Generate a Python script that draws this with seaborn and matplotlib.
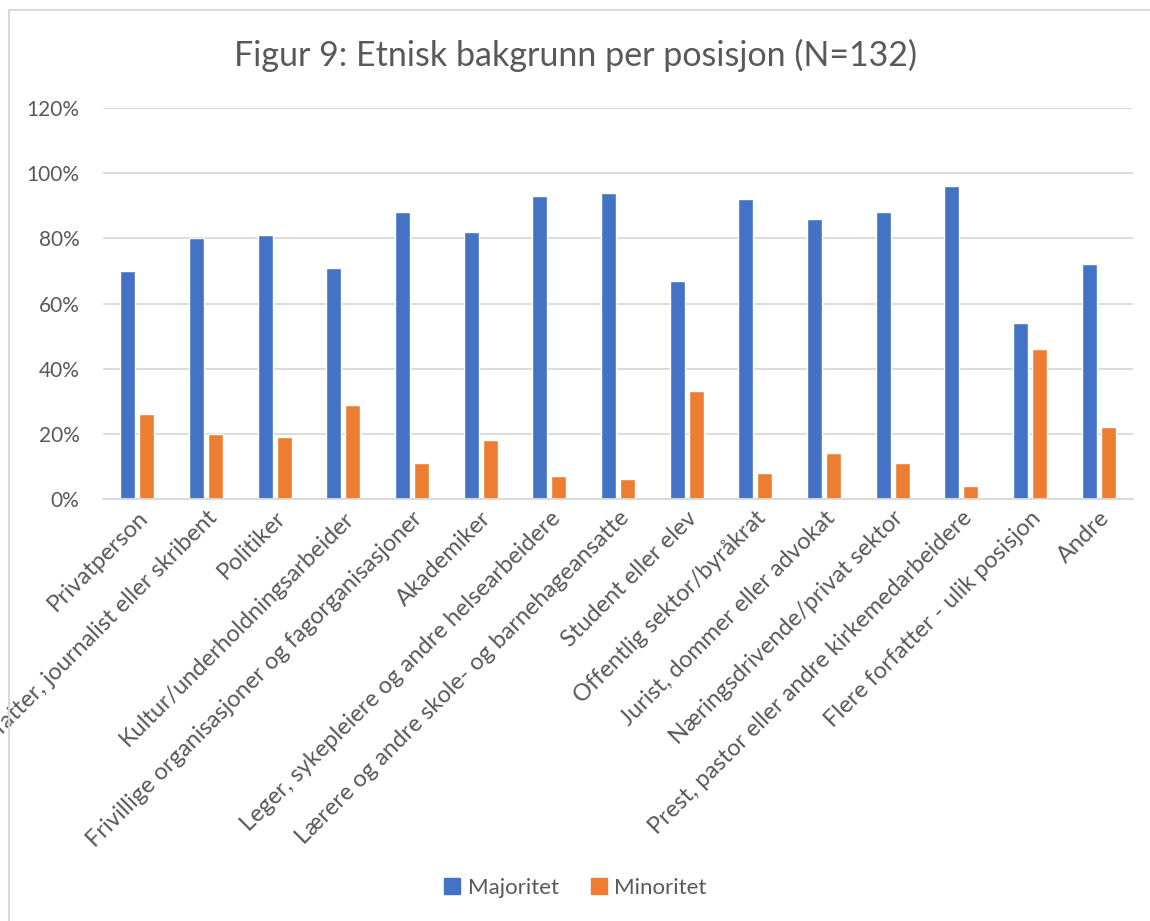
import matplotlib
matplotlib.use("Agg")
import matplotlib.pyplot as plt
import seaborn as sns
import pandas as pd
from matplotlib.lines import Line2D
from matplotlib.ticker import FuncFormatter, MultipleLocator

categories = [
    "Privatperson",
    "Forfatter, journalist eller skribent",
    "Politiker",
    "Kultur/underholdningsarbeider",
    "Frivillige organisasjoner og fagorganisasjoner",
    "Akademiker",
    "Leger, sykepleiere og andre helsearbeidere",
    "Lærere og andre skole- og barnehageansatte",
    "Student eller elev",
    "Offentlig sektor/byråkrat",
    "Jurist, dommer eller advokat",
    "Næringsdrivende/privat sektor",
    "Prest, pastor eller andre kirkemedarbeidere",
    "Flere forfatter - ulik posisjon",
    "Andre",
]
majoritet = [70, 80, 81, 71, 88, 82, 93, 94, 67, 92, 86, 88, 96, 54, 72]
minoritet = [26, 20, 19, 29, 11, 18, 7, 6, 33, 8, 14, 11, 4, 46, 22]
series_names = ["Majoritet", "Minoritet"]
title = "Figur 9: Etnisk bakgrunn per posisjon (N=132)"

df = pd.DataFrame({
    "Posisjon": categories * 2,
    "Serie": [series_names[0]] * len(categories) + [series_names[1]] * len(categories),
    "Verdi": majoritet + minoritet,
})

sns.set_theme(style="white")
plt.rcParams["font.family"] = ["Lato", "DejaVu Sans"]

txt = "#595959"
fig = plt.figure(figsize=(11.5, 9.21), dpi=100)
ax = fig.add_axes([103 / 1150, 1 - 499 / 921, (1133 - 103) / 1150, (499 - 108) / 921])

sns.barplot(data=df, x="Posisjon", y="Verdi", hue="Serie",
            palette={"Majoritet": "#4472C4", "Minoritet": "#ED7D31"},
            width=0.55, gap=0.2, ax=ax, legend=False, saturation=1)

ax.set_ylim(0, 120)
ax.set_xlim(-0.5, len(categories) - 0.5)
ax.yaxis.set_major_locator(MultipleLocator(20))
ax.yaxis.set_major_formatter(FuncFormatter(lambda v, p: f"{int(v)}%"))
ax.grid(axis="y", color="#D9D9D9", linewidth=1.3)
ax.set_axisbelow(True)
for s in ["top", "right", "left"]:
    ax.spines[s].set_visible(False)
ax.spines["bottom"].set_color("#D9D9D9")
ax.spines["bottom"].set_linewidth(1.3)
ax.set_xlabel("")
ax.set_ylabel("")
ax.tick_params(axis="y", length=0, pad=17, labelsize=15, labelcolor=txt)
ax.tick_params(axis="x", length=0, pad=6, labelsize=17, labelcolor=txt)
ax.set_xticks(range(len(categories)))
ax.set_xticklabels(categories, rotation=45, ha="right", rotation_mode="anchor")

fig.text(0.5, 1 - 55 / 921, title, ha="center", va="center", fontsize=24.5, color=txt)

handles = [Line2D([], [], marker="s", linestyle="", markersize=12, color=c)
           for c in ["#4472C4", "#ED7D31"]]
fig.legend(handles, series_names, loc="center", bbox_to_anchor=(0.5, 1 - 888 / 921),
           ncol=2, frameon=False, fontsize=16, labelcolor=txt, handlelength=0.8,
           handletextpad=0.3, columnspacing=1.4)

border = "#D9D9D9"
fig.add_artist(Line2D([9 / 1150, 1], [1 - 10 / 921, 1 - 10 / 921], color=border, lw=1.5,
                      transform=fig.transFigure))
fig.add_artist(Line2D([9 / 1150, 9 / 1150], [0, 1 - 10 / 921], color=border, lw=1.5,
                      transform=fig.transFigure))

fig.savefig("out.png", dpi=100, facecolor="white")
